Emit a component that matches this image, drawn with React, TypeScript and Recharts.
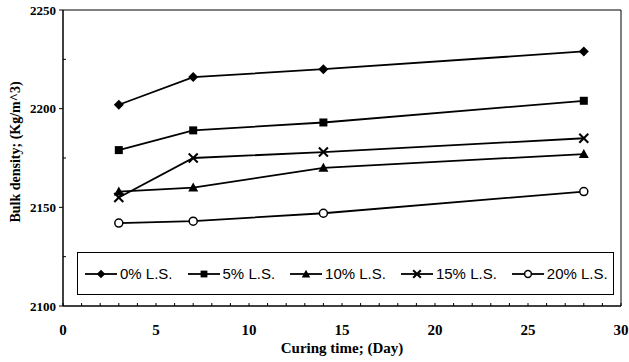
import React from "react"
import { LineChart, Line, XAxis, YAxis, Legend, ReferenceArea } from "recharts"

// curing days and bulk density per limestone content
const days = [3, 7, 14, 28]
const ls0 = [2202, 2216, 2220, 2229]
const ls5 = [2179, 2189, 2193, 2204]
const ls10 = [2158, 2160, 2170, 2177]
const ls15 = [2155, 2175, 2178, 2185]
const ls20 = [2142, 2143, 2147, 2158]

const xDomain = [0, 30]
const yDomain = [2100, 2250]
const xTicks = Array.from({ length: 31 }, (_, i) => i)
const yTicks = [2100, 2125, 2150, 2175, 2200, 2225, 2250]

const series = [
  { key: "ls0", name: "0% L.S.", values: ls0, shape: "diamond" },
  { key: "ls5", name: "5% L.S.", values: ls5, shape: "square" },
  { key: "ls10", name: "10% L.S.", values: ls10, shape: "triangle" },
  { key: "ls15", name: "15% L.S.", values: ls15, shape: "cross" },
  { key: "ls20", name: "20% L.S.", values: ls20, shape: "circle" },
]

const rows = days.map((d, i) => {
  const row: any = { day: d }
  series.forEach((s) => (row[s.key] = s.values[i]))
  return row
})

const serif = "'Liberation Serif', 'Times New Roman', serif"
const sans = "'Liberation Sans', Arial, sans-serif"

function Marker({ shape, cx, cy, k = 1 }: any) {
  const r = 5 * k
  if (shape === "diamond")
    return <path d={`M${cx},${cy - r}L${cx + r},${cy}L${cx},${cy + r}L${cx - r},${cy}Z`} fill="#000" />
  if (shape === "square")
    return <rect x={cx - 4 * k} y={cy - 4 * k} width={8 * k} height={8 * k} fill="#000" />
  if (shape === "triangle")
    return <path d={`M${cx},${cy - r}L${cx + r},${cy + 4 * k}L${cx - r},${cy + 4 * k}Z`} fill="#000" />
  if (shape === "cross") {
    const h = 4.5 * k
    return (
      <g stroke="#000" strokeWidth={2}>
        <line x1={cx - h} y1={cy - h} x2={cx + h} y2={cy + h} />
        <line x1={cx - h} y1={cy + h} x2={cx + h} y2={cy - h} />
      </g>
    )
  }
  return <circle cx={cx} cy={cy} r={4 * k} fill="#fff" stroke="#000" strokeWidth={1.5} />
}

const XTick = ({ x, y, payload }: any) => (
  <g>
    <line x1={x} y1={y} x2={x} y2={y - 3} stroke="#000" />
    {payload.value % 5 === 0 && (
      <text x={x} y={y + 29} textAnchor="middle" fontFamily={serif} fontWeight="bold" fontSize={15} fill="#000">
        {payload.value}
      </text>
    )}
  </g>
)

const YTick = ({ x, y, payload }: any) => {
  const major = payload.value % 50 === 0
  return (
    <g>
      {major ? (
        <line x1={x - 4} y1={y} x2={x} y2={y} stroke="#000" />
      ) : (
        <line x1={x} y1={y} x2={x + 3} y2={y} stroke="#000" />
      )}
      {major && (
        <text x={x - 7} y={y + 4.5} textAnchor="end" fontFamily={serif} fontWeight="bold" fontSize={13} fill="#000">
          {payload.value}
        </text>
      )}
    </g>
  )
}

const XTitle = ({ viewBox }: any) => (
  <text
    x={viewBox.x + viewBox.width / 2}
    y={viewBox.y + 47}
    textAnchor="middle"
    fontFamily={serif}
    fontWeight="bold"
    fontSize={15}
    fill="#000"
  >
    Curing time; (Day)
  </text>
)

const YTitle = ({ viewBox }: any) => {
  const cy = viewBox.y + viewBox.height / 2 - 6
  return (
    <text
      x={20}
      y={cy}
      transform={`rotate(-90, 20, ${cy})`}
      textAnchor="middle"
      fontFamily={serif}
      fontWeight="bold"
      fontSize={14}
      fill="#000"
    >
      Bulk density; (Kg/m^3)
    </text>
  )
}

const LegendBox = () => (
  <div
    style={{
      boxSizing: "border-box",
      width: 537,
      height: 43,
      border: "1px solid #000",
      background: "#fff",
      display: "flex",
      alignItems: "center",
      paddingLeft: 7,
      gap: 15,
      fontFamily: sans,
      fontSize: 15,
      color: "#000",
    }}
  >
    {series.map((s) => (
      <div key={s.key} style={{ display: "flex", alignItems: "center" }}>
        <svg width={32} height={14}>
          <line x1={0} y1={7} x2={32} y2={7} stroke="#000" strokeWidth={1.8} />
          <Marker shape={s.shape} cx={16} cy={7} k={0.85} />
        </svg>
        <span style={{ marginLeft: 3, whiteSpace: "nowrap" }}>{s.name}</span>
      </div>
    ))}
  </div>
)

export default function App() {
  return (
    <div style={{ position: "absolute", left: 0, top: 0, background: "#fff" }}>
      <LineChart width={629} height={362} data={rows} margin={{ top: 10, right: 8, left: 0, bottom: 0 }}>
        <XAxis
          dataKey="day"
          type="number"
          domain={xDomain}
          ticks={xTicks}
          interval={0}
          tick={<XTick />}
          tickLine={false}
          tickSize={0}
          tickMargin={0}
          height={56}
          stroke="#000"
          label={<XTitle />}
        />
        <YAxis
          type="number"
          domain={yDomain}
          ticks={yTicks}
          interval={0}
          tick={<YTick />}
          tickLine={false}
          tickSize={0}
          tickMargin={0}
          width={63}
          stroke="#000"
          label={<YTitle />}
        />
        <ReferenceArea
          x1={xDomain[0]}
          x2={xDomain[1]}
          y1={yDomain[0]}
          y2={yDomain[1]}
          fill="none"
          stroke="#000"
          strokeWidth={1}
          ifOverflow="visible"
        />
        <Legend
          layout="horizontal"
          verticalAlign="middle"
          align="center"
          content={<LegendBox />}
          wrapperStyle={{ left: 77, top: 252, width: 537, height: 43 }}
        />
        {series.map((s) => (
          <Line
            key={s.key}
            dataKey={s.key}
            name={s.name}
            type="linear"
            stroke="#000"
            strokeWidth={1.8}
            isAnimationActive={false}
            dot={(p: any) => <Marker key={`${s.key}-${p.index}`} shape={s.shape} cx={p.cx} cy={p.cy} />}
            activeDot={false}
          />
        ))}
      </LineChart>
    </div>
  )
}
